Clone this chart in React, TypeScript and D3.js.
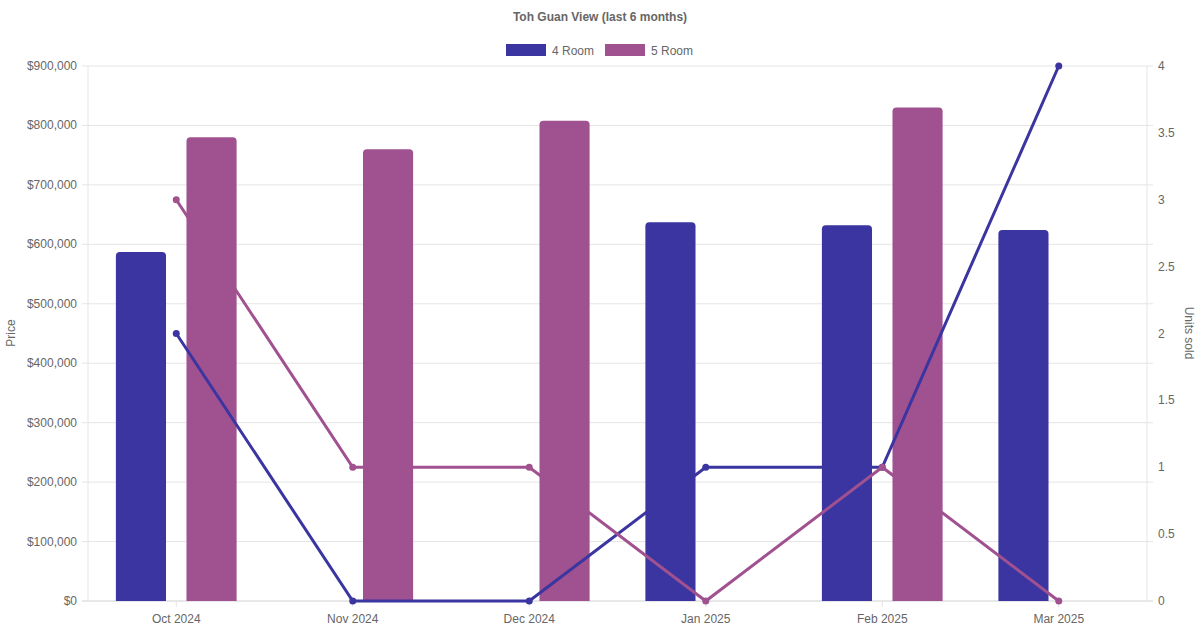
import React from "react";
import * as d3 from "d3";

const categories = ["Oct 2024", "Nov 2024", "Dec 2024", "Jan 2025", "Feb 2025", "Mar 2025"];
const price4Room: (number | null)[] = [587000, null, null, 637000, 632000, 624000];
const price5Room: (number | null)[] = [780000, 760000, 808000, null, 830000, null];
const units4Room = [2, 0, 0, 1, 1, 4];
const units5Room = [3, 1, 1, 0, 1, 0];
const priceTicks = [0, 100000, 200000, 300000, 400000, 500000, 600000, 700000, 800000, 900000];
const unitTicks = [0, 0.5, 1, 1.5, 2, 2.5, 3, 3.5, 4];

const BLUE = "#3a35a0";
const PURPLE = "#a05190";
const FONT = "'Liberation Sans', Arial, Helvetica, sans-serif";

export default function App() {
  const W = 1200, H = 630;
  const left = 88, right = 1147, top = 66, bottom = 601;

  const x = d3.scaleBand<string>().domain(categories).range([left, right]).padding(0);
  const inner = d3.scaleBand<string>().domain(["4", "5"]).range([0, x.bandwidth() * 0.8]).padding(0);
  const barW = inner.bandwidth() * 0.71;
  const offset = x.bandwidth() * 0.1;
  const yP = d3.scaleLinear().domain([0, 900000]).range([bottom, top]);
  const yU = d3.scaleLinear().domain([0, 4]).range([bottom, top]);
  const fmt = d3.format("$,");
  const cx = (c: string) => (x(c) as number) + x.bandwidth() / 2;

  const line = d3.line<number>().x((_, i) => cx(categories[i])).y((d) => yU(d));

  const barPath = (x0: number, w: number, yTop: number, yBot: number, r: number) => {
    const rr = Math.min(r, w / 2, yBot - yTop);
    return `M${x0},${yBot}V${yTop + rr}Q${x0},${yTop} ${x0 + rr},${yTop}H${x0 + w - rr}Q${x0 + w},${yTop} ${x0 + w},${yTop + rr}V${yBot}Z`;
  };

  const bars = (vals: (number | null)[], key: string, color: string) =>
    vals.map((v, i) => {
      if (v == null) return null;
      const c = categories[i];
      const slotX = (x(c) as number) + offset + (inner(key) as number);
      const bx = slotX + (inner.bandwidth() - barW) / 2;
      return <path key={key + i} d={barPath(bx, barW, yP(v), yP(0), 4)} fill={color} />;
    });

  return (
    <svg width={W} height={H} style={{ position: "fixed", left: 0, top: 0, background: "#fff" }} fontFamily={FONT}>
      <rect width={W} height={H} fill="#fff" />
      <text x={600} y={21} textAnchor="middle" fontSize={12} fontWeight="bold" fill="#666">
        Toh Guan View (last 6 months)
      </text>
      {/* legend */}
      <rect x={506} y={44} width={40} height={12} fill={BLUE} />
      <text x={552} y={54.5} fontSize={12} fill="#666">4 Room</text>
      <rect x={605} y={44} width={40} height={12} fill={PURPLE} />
      <text x={651} y={54.5} fontSize={12} fill="#666">5 Room</text>

      {/* grid */}
      {priceTicks.map((t) => (
        <g key={"g" + t}>
          <line x1={left - 6} x2={right + 6} y1={yP(t)} y2={yP(t)} stroke={t === 0 ? "#d0d0d0" : "#e5e5e5"} strokeWidth={1} />
          <text x={77} y={yP(t) + 4} textAnchor="end" fontSize={12} fill="#666">{fmt(t)}</text>
        </g>
      ))}
      <line x1={left} x2={left} y1={top} y2={bottom} stroke="#e5e5e5" />
      <line x1={right} x2={right} y1={top} y2={bottom} stroke="#e5e5e5" />
      {unitTicks.map((t) => (
        <text key={"u" + t} x={1158} y={yU(t) + 4} fontSize={12} fill="#666">{String(t)}</text>
      ))}
      {categories.map((c) => (
        <g key={"x" + c}>
          <line x1={cx(c)} x2={cx(c)} y1={bottom} y2={bottom + 6} stroke="#e5e5e5" />
          <text x={cx(c)} y={623} textAnchor="middle" fontSize={12} fill="#666">{c}</text>
        </g>
      ))}
      <text transform={`translate(15,333) rotate(-90)`} textAnchor="middle" fontSize={12} fill="#666">Price</text>
      <text transform={`translate(1185,333) rotate(90)`} textAnchor="middle" fontSize={12} fill="#666">Units sold</text>

      {bars(price4Room, "4", BLUE)}
      {bars(price5Room, "5", PURPLE)}

      <path d={line(units4Room) || ""} fill="none" stroke={BLUE} strokeWidth={3} />
      {units4Room.map((v, i) => (
        <circle key={"p4" + i} cx={cx(categories[i])} cy={yU(v)} r={3.5} fill={BLUE} />
      ))}
      <path d={line(units5Room) || ""} fill="none" stroke={PURPLE} strokeWidth={3} />
      {units5Room.map((v, i) => (
        <circle key={"p5" + i} cx={cx(categories[i])} cy={yU(v)} r={3.5} fill={PURPLE} />
      ))}
    </svg>
  );
}
